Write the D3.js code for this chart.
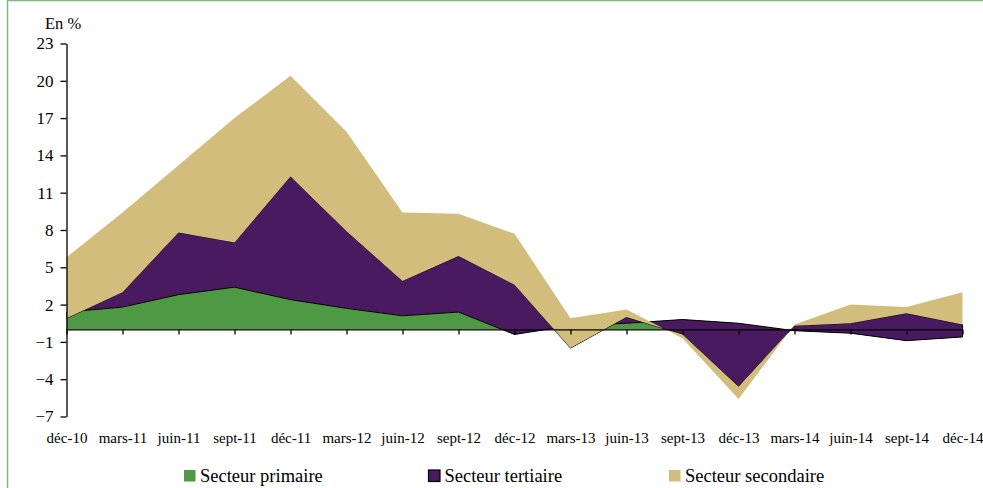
<!DOCTYPE html>
<html lang="fr">
<head>
<meta charset="UTF-8">
<title>Secteurs</title>
<style>
  body { margin: 0; background: #fff; }
  text { font-family: "Liberation Serif", "Times New Roman", serif; fill: #000; }
</style>
</head>
<body>
<script src="https://d3js.org/d3.v7.min.js"></script>
<script>
// trimestres, dec-10 a dec-14
var dates = ["déc-10", "mars-11", "juin-11", "sept-11", "déc-11", "mars-12", "juin-12", "sept-12", "déc-12",
             "mars-13", "juin-13", "sept-13", "déc-13", "mars-14", "juin-14", "sept-14", "déc-14"];

// valeurs en %, empilees dans cet ordre (comme dans Excel)
var primaire   = [1.4, 1.8, 2.8, 3.4, 2.4, 1.7, 1.1, 1.4, -0.4, 0.3, 0.5, 0.8, 0.5, -0.1, -0.3, -0.9, -0.6];
var tertiaire  = [-0.5, 1.2, 5.0, 3.6, 9.9, 6.2, 2.8, 4.5, 4.0, -1.8, 0.5, -1.2, -5.1, 0.4, 0.8, 2.2, 1.0];
var secondaire = [4.9, 6.4, 5.4, 10.0, 8.1, 8.0, 5.5, 3.4, 4.1, 2.4, 0.6, -0.3, -1.0, 0.1, 1.5, 0.5, 2.6];

var yTicks = [-7, -4, -1, 2, 5, 8, 11, 14, 17, 20, 23];

var series = [
  {name: "Secteur primaire", values: primaire, color: "#4f9944", stroke: "none"},
  {name: "Secteur tertiaire", values: tertiaire, color: "#4a1a60", stroke: "#000"},
  {name: "Secteur secondaire", values: secondaire, color: "#d2bd7c", stroke: "none"}
];

var W = 983, H = 488;
var svg = d3.select("body").append("svg").attr("width", W).attr("height", H);

// cadre vert
svg.append("rect")
  .attr("x", 7.5).attr("y", 0.5).attr("width", 1000).attr("height", 600)
  .attr("fill", "none").attr("stroke", "#80b97c").attr("stroke-width", 1.5);

var x = d3.scalePoint().domain(dates).range([66.5, 962.5]);
var y = d3.scaleLinear().domain([-7, 23]).range([416.5, 43.5]);

// empilement cumulatif (les negatifs ne sont pas separes)
var base = dates.map(function() { return 0; });
series.forEach(function(s) {
  var rows = dates.map(function(d, i) {
    return {date: d, y0: base[i], y1: base[i] + s.values[i]};
  });
  base = rows.map(function(r) { return r.y1; });
  s.rows = rows;
});

var area = d3.area()
  .x(function(d) { return x(d.date); })
  .y0(function(d) { return y(d.y0); })
  .y1(function(d) { return y(d.y1); });

svg.selectAll("path.area")
  .data(series)
  .enter()
  .append("path")
  .attr("class", "area")
  .attr("d", function(s) { return area(s.rows); })
  .attr("fill", function(s) { return s.color; })
  .attr("stroke", function(s) { return s.stroke; })
  .attr("stroke-width", 1)
  .attr("stroke-linejoin", "miter");

// axe horizontal au niveau 0
svg.append("g")
  .attr("transform", "translate(0," + y(0) + ")")
  .call(d3.axisBottom(x).tickSize(5).tickSizeOuter(0).tickFormat(""))
  .call(function(g) { g.selectAll("path, line").attr("stroke", "#000").attr("stroke-width", 1.3); });

// libelles des dates en bas
svg.append("g")
  .attr("transform", "translate(0," + y(-7) + ")")
  .call(d3.axisBottom(x).tickSize(0).tickPadding(16))
  .call(function(g) { g.select(".domain").remove(); })
  .selectAll("text")
  .attr("font-family", "Liberation Serif")
  .attr("font-size", "15px");

// axe vertical
svg.append("g")
  .attr("transform", "translate(" + x(dates[0]) + ",0)")
  .call(d3.axisLeft(y).tickValues(yTicks).tickSize(6).tickSizeOuter(0).tickPadding(7))
  .call(function(g) { g.selectAll("path, line").attr("stroke", "#000").attr("stroke-width", 1.3); })
  .selectAll("text")
  .attr("font-family", "Liberation Serif")
  .attr("font-size", "17px");

svg.append("text")
  .attr("x", 45).attr("y", 29)
  .attr("font-size", "16.5px")
  .text("En %");

// legende
var legX = [184, 428.5, 669];
var leg = svg.selectAll("g.leg")
  .data(series)
  .enter()
  .append("g")
  .attr("class", "leg")
  .attr("transform", function(d, i) { return "translate(" + legX[i] + ",470)"; });

leg.append("rect")
  .attr("width", 11.5).attr("height", 11.5)
  .attr("fill", function(d) { return d.color; })
  .attr("stroke", function(d) { return d.stroke; })
  .attr("stroke-width", 1.2);

leg.append("text")
  .attr("x", 16).attr("y", 11.5)
  .attr("font-size", "18.5px")
  .text(function(d) { return d.name; });
</script>
</body>
</html>
